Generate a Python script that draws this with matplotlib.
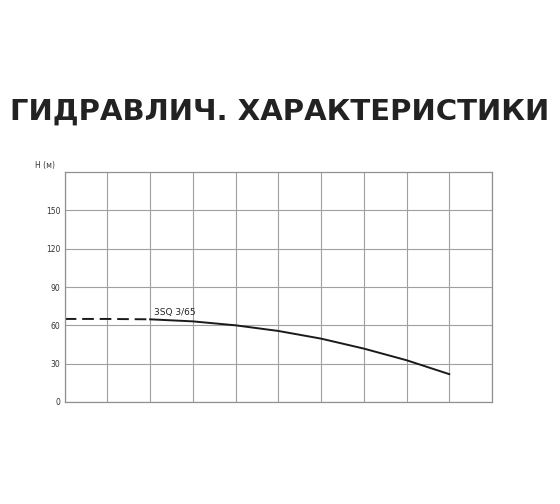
import matplotlib
matplotlib.use('Agg')
import matplotlib.pyplot as plt

# head curve
q_dash = [0, 1, 2]
h_dash = [65, 65, 64.7]
q_solid = [2, 3, 4, 5, 6, 7, 8, 9]
h_solid = [64.7, 63.1, 60.0, 55.6, 49.6, 41.8, 32.7, 21.8]
y_ticks = [0, 30, 60, 90, 120, 150]
curve_name = '3SQ 3/65'
title = 'ГИДРАВЛИЧ. ХАРАКТЕРИСТИКИ'

fig = plt.figure(figsize=(5.6, 5.04), dpi=100)
ax = fig.add_axes([0.1155, 0.2024, 0.763, 0.4563])

ax.plot(q_dash, h_dash, color='#1a1a1a', lw=1.4, ls=(0, (6, 3)))
ax.plot(q_solid, h_solid, color='#1a1a1a', lw=1.4)
ax.text(2.1, 66.5, curve_name, fontsize=6.5, color='#222222', va='bottom')

ax.set_xlim(0, 10)
ax.set_ylim(0, 180)
ax.set_xticks(range(0, 11))
ax.set_xticklabels([])
ax.set_yticks(y_ticks)
ax.set_yticklabels([str(v) for v in y_ticks], fontsize=5.5, color='#333333')
ax.tick_params(length=0, pad=3)
ax.grid(True, color='#a0a0a0', lw=0.8)
for s in ax.spines.values():
    s.set_color('#909090')
    s.set_linewidth(0.9)

fig.text(0.098, 0.663, 'H (м)', fontsize=5.5, color='#333333', ha='right', va='bottom')
fig.text(0.5, 0.779, title, fontsize=21, color='#222222', ha='center', va='center',
         family='DejaVu Sans', fontweight='semibold')

fig.savefig('out.png', dpi=100)
